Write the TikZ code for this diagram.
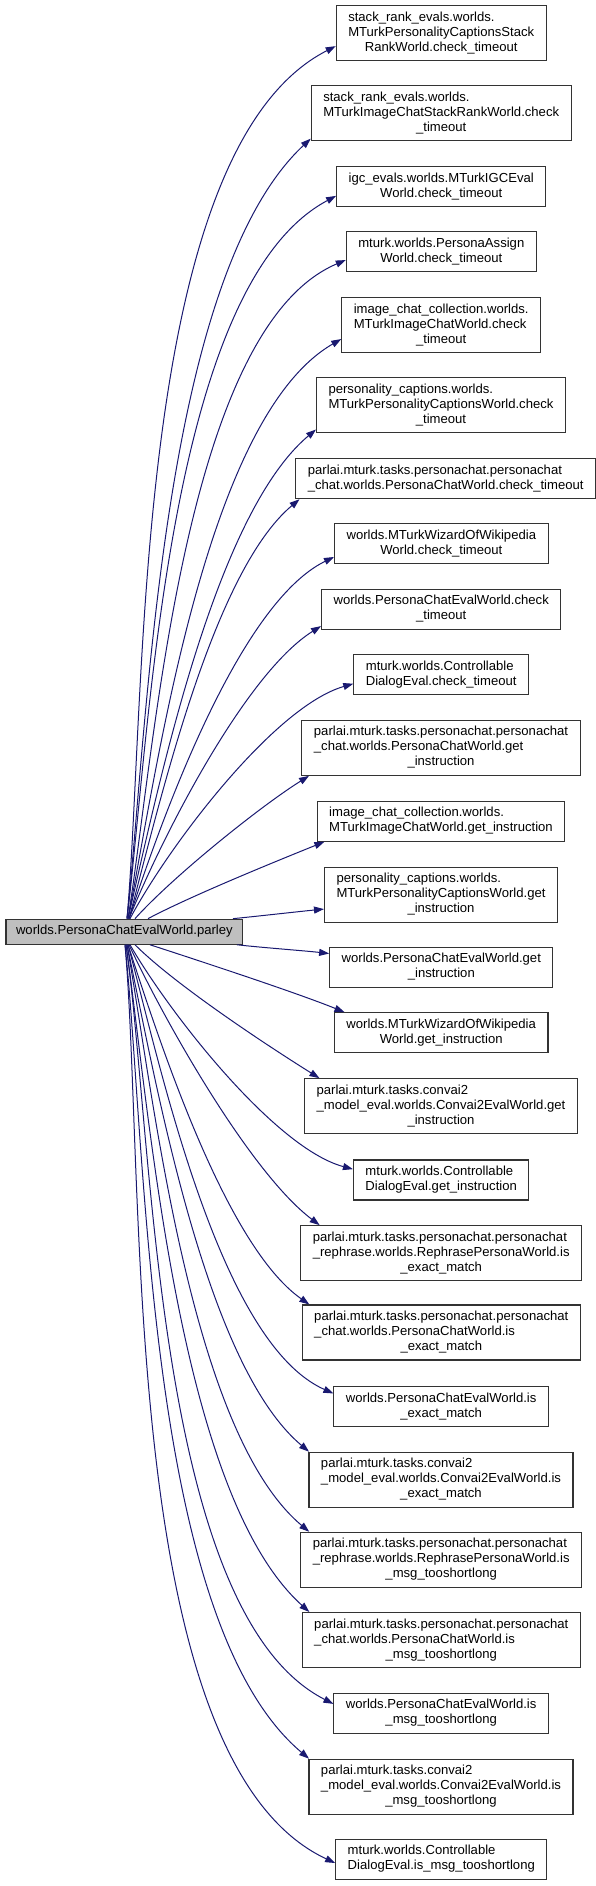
\documentclass[tikz,border=0pt]{standalone}
\usepackage{fontspec}
\setmainfont{Liberation Sans}
\usepackage{tikz}
\usetikzlibrary{arrows.meta}

\definecolor{callblue}{RGB}{25,25,112}
\definecolor{curgrey}{RGB}{191,191,191}

% label: all lines but the last left aligned, last line centred
\newcommand{\fnlabel}[2]{\begin{tabular}{@{}l@{}}#1\\\multicolumn{1}{@{}c@{}}{#2}\end{tabular}}
\newcommand{\fnline}[1]{\begin{tabular}{@{}c@{}}#1\end{tabular}}

\tikzset{
    fn/.style={draw=black!80, line width=1.1pt, fill=white, inner xsep=12pt, inner ysep=5pt,
        font=\fontsize{13.1}{15}\selectfont},
    cur/.style={fn, fill=curgrey, inner xsep=10pt},
    call/.style={callblue, line width=1pt, looseness=0.65, -{Triangle[length=10pt,width=7pt]}}
}

\begin{document}
\begin{tikzpicture}[x=1pt,y=1pt]
    \useasboundingbox (0,0) rectangle (596,-1886);

    % caller
    \node[cur] (parley) at (124.4,-931.7) {\fnline{worlds.PersonaChatEvalWorld.parley}};

    % check_timeout
    \node[fn] (chk1) at (441.2,-33.2) {\fnlabel{stack\_rank\_evals.worlds.\\MTurkPersonalityCaptionsStack}{RankWorld.check\_timeout}};
    \node[fn] (chk2) at (441.2,-113.3) {\fnlabel{stack\_rank\_evals.worlds.\\MTurkImageChatStackRankWorld.check}{\_timeout}};
    \node[fn] (chk3) at (441.2,-186.7) {\fnlabel{igc\_evals.worlds.MTurkIGCEval}{World.check\_timeout}};
    \node[fn] (chk4) at (441.3,-251.7) {\fnlabel{mturk.worlds.PersonaAssign}{World.check\_timeout}};
    \node[fn] (chk5) at (441.2,-325) {\fnlabel{image\_chat\_collection.worlds.\\MTurkImageChatWorld.check}{\_timeout}};
    \node[fn] (chk6) at (441,-405.2) {\fnlabel{personality\_captions.worlds.\\MTurkPersonalityCaptionsWorld.check}{\_timeout}};
    \node[fn] (chk7) at (445.7,-478.7) {\fnlabel{parlai.mturk.tasks.personachat.personachat}{\_chat.worlds.PersonaChatWorld.check\_timeout}};
    \node[fn] (chk8) at (441.3,-543.8) {\fnlabel{worlds.MTurkWizardOfWikipedia}{World.check\_timeout}};
    \node[fn] (chk9) at (441.2,-609.2) {\fnlabel{worlds.PersonaChatEvalWorld.check}{\_timeout}};
    \node[fn] (chk10) at (441.2,-674.5) {\fnlabel{mturk.worlds.Controllable}{DialogEval.check\_timeout}};

    % get_instruction
    \node[fn] (gi1) at (441,-747.8) {\fnlabel{parlai.mturk.tasks.personachat.personachat\\\_chat.worlds.PersonaChatWorld.get}{\_instruction}};
    \node[fn] (gi2) at (441,-821.2) {\fnlabel{image\_chat\_collection.worlds.}{MTurkImageChatWorld.get\_instruction}};
    \node[fn] (gi3) at (441,-894.7) {\fnlabel{personality\_captions.worlds.\\MTurkPersonalityCaptionsWorld.get}{\_instruction}};
    \node[fn] (gi4) at (441.3,-967.3) {\fnlabel{worlds.PersonaChatEvalWorld.get}{\_instruction}};
    \node[fn] (gi5) at (441.2,-1032.7) {\fnlabel{worlds.MTurkWizardOfWikipedia}{World.get\_instruction}};
    \node[fn] (gi6) at (441,-1106.2) {\fnlabel{parlai.mturk.tasks.convai2\\\_model\_eval.worlds.Convai2EvalWorld.get}{\_instruction}};
    \node[fn] (gi7) at (441.2,-1180) {\fnlabel{mturk.worlds.Controllable}{DialogEval.get\_instruction}};

    % is_exact_match
    \node[fn] (em1) at (441.2,-1253.2) {\fnlabel{parlai.mturk.tasks.personachat.personachat\\\_rephrase.worlds.RephrasePersonaWorld.is}{\_exact\_match}};
    \node[fn] (em2) at (441.3,-1332.5) {\fnlabel{parlai.mturk.tasks.personachat.personachat\\\_chat.worlds.PersonaChatWorld.is}{\_exact\_match}};
    \node[fn] (em3) at (441.2,-1406.7) {\fnlabel{worlds.PersonaChatEvalWorld.is}{\_exact\_match}};
    \node[fn] (em4) at (441,-1479.7) {\fnlabel{parlai.mturk.tasks.convai2\\\_model\_eval.worlds.Convai2EvalWorld.is}{\_exact\_match}};

    % is_msg_tooshortlong
    \node[fn] (mt1) at (441.2,-1559.8) {\fnlabel{parlai.mturk.tasks.personachat.personachat\\\_rephrase.worlds.RephrasePersonaWorld.is}{\_msg\_tooshortlong}};
    \node[fn] (mt2) at (441.3,-1640) {\fnlabel{parlai.mturk.tasks.personachat.personachat\\\_chat.worlds.PersonaChatWorld.is}{\_msg\_tooshortlong}};
    \node[fn] (mt3) at (441.2,-1713.3) {\fnlabel{worlds.PersonaChatEvalWorld.is}{\_msg\_tooshortlong}};
    \node[fn] (mt4) at (441,-1786.7) {\fnlabel{parlai.mturk.tasks.convai2\\\_model\_eval.worlds.Convai2EvalWorld.is}{\_msg\_tooshortlong}};
    \node[fn] (mt5) at (441.3,-1859.3) {\fnlabel{mturk.worlds.Controllable}{DialogEval.is\_msg\_tooshortlong}};

    % calls going up
    \foreach \dst/\sx/\o/\i/\a in {chk1/2.6/85/207/187.4, chk2/2.6/84/223/191, chk3/2.6/83/208/185.6,
        chk4/3.6/81/203/185, chk5/3.6/79/210/188.6, chk6/3.6/77/220/191.2, chk7/4.6/75/220/188.4,
        chk8/4.6/72/206/187, chk9/4.6/68/212/188.5, chk10/5.6/62/196/186.2, gi1/10.6/48/212/192.7,
        gi2/23.6/28/202/190.9, gi3/108.6/5.6/185.6/187.5}
        \draw[call] ([xshift=\sx pt]parley.north) to[out=\o,in=\i] (\dst.\a);

    % calls going down
    \foreach \dst/\sx/\o/\i/\a in {gi4/112.6/-6.6/173.4/173.7, gi5/25.6/-18/158/168.8, gi6/10.6/-45/148/167,
        gi7/5.6/-60/165/173.5, em1/4.6/-65/143/167.9, em2/3.6/-72/145/168.2, em3/3.6/-75/156/173.8,
        em4/2.6/-78/140/168.1, mt1/2.6/-80/140/168.7, mt2/1.6/-82/138/168.8, mt3/1.6/-82/153/175.6,
        mt4/0.6/-84/140/168.2, mt5/0.6/-85/155/182}
        \draw[call] ([xshift=\sx pt]parley.south) to[out=\o,in=\i] (\dst.\a);
\end{tikzpicture}
\end{document}
